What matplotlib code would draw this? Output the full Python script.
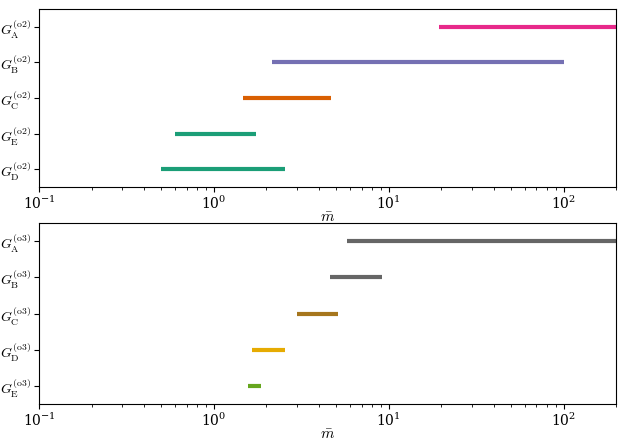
import numpy as np
import matplotlib
matplotlib.use("Agg")
import matplotlib.pyplot as plt

plt.rcParams['mathtext.fontset'] = 'cm'
plt.rcParams['font.family'] = 'serif'
plt.rcParams['font.serif'] = ['DejaVu Serif']

# top panel: (o2) groups, bottom to top
o2_names = ['D', 'E', 'C', 'B', 'A']
o2_lo = [0.5, 0.6, 1.47, 2.15, 19.5]
o2_hi = [2.55, 1.75, 4.7, 100, 200]
o2_colors = ['#1b9e77', '#1b9e77', '#d95f02', '#7570b3', '#e7298a']

# bottom panel: (o3) groups, bottom to top
o3_names = ['E', 'D', 'C', 'B', 'A']
o3_lo = [1.56, 1.65, 3.0, 4.6, 5.8]
o3_hi = [1.86, 2.55, 5.15, 9.2, 200]
o3_colors = ['#66a61e', '#e6ab02', '#a6761d', '#666666', '#666666']

fig = plt.figure(figsize=(6.23, 4.45), dpi=100)
ax1 = fig.add_axes([0.0626, 0.5798, 0.9264, 0.4])
ax2 = fig.add_axes([0.0626, 0.0921, 0.9264, 0.4068])

def draw(ax, names, lo, hi, colors, tag):
    for i in range(len(names)):
        ax.plot([lo[i], hi[i]], [i, i], color=colors[i], lw=3, solid_capstyle='butt')
    ax.set_xscale('log')
    ax.set_xlim(0.1, 200)
    ax.set_ylim(-0.5, len(names) - 0.5)
    ax.set_yticks(range(len(names)))
    ax.set_yticklabels([r'$G_{\rm %s}^{\rm (%s)}$' % (n, tag) for n in names], fontsize=10)
    ax.tick_params(axis='x', labelsize=10, pad=2)
    ax.tick_params(axis='y', pad=2)
    ax.set_xlabel(r'$\bar{m}$', fontsize=11, labelpad=-1)

draw(ax1, o2_names, o2_lo, o2_hi, o2_colors, 'o2')
draw(ax2, o3_names, o3_lo, o3_hi, o3_colors, 'o3')

fig.savefig('out.png', dpi=100)
